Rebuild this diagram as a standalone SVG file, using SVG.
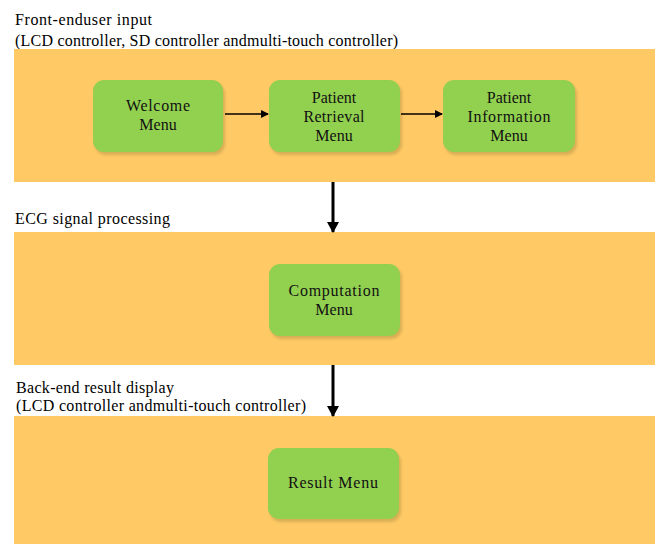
<svg xmlns="http://www.w3.org/2000/svg" width="659" height="544" viewBox="0 0 659 544">
<style>
.band{fill:#FFCA66}
.node{fill:#92D050}
.shadow{fill:#A88A3C;opacity:0.45;filter:url(#blur)}
.lbl{font-family:'Liberation Serif','Times New Roman','Liberation Sans',serif;font-size:16px;fill:#000}
.nt{font-family:'Liberation Serif','Times New Roman','Liberation Sans',serif;font-size:16px;fill:#111;text-anchor:middle}
.conn{stroke:#000;fill:none}
</style>
<defs>
<filter id="blur" x="-10%" y="-10%" width="120%" height="130%"><feGaussianBlur stdDeviation="1.5"/></filter>
<marker id="ah" markerWidth="8" markerHeight="8" refX="7" refY="4" orient="auto" markerUnits="userSpaceOnUse"><path d="M0,0 L8,4 L0,8 Z" fill="#000"/></marker>
<marker id="ahb" markerWidth="12" markerHeight="12" refX="10" refY="6" orient="auto" markerUnits="userSpaceOnUse"><path d="M0,0 L11,6 L0,12 Z" fill="#000"/></marker>
</defs>
<rect width="659" height="544" fill="#fff"/>
<g id="band1">
<text class="lbl" x="15" y="25" textLength="137" lengthAdjust="spacing">Front-enduser input</text>
<text class="lbl" x="15" y="46" textLength="383" lengthAdjust="spacing">(LCD controller, SD controller andmulti-touch controller)</text>
<rect class="band" x="14" y="49" width="641" height="133"/>
</g>
<g id="band2">
<text class="lbl" x="15" y="224" textLength="155" lengthAdjust="spacing">ECG signal processing</text>
<rect class="band" x="14" y="232" width="641" height="133"/>
</g>
<g id="band3">
<text class="lbl" x="16" y="393" textLength="158" lengthAdjust="spacing">Back-end result display</text>
<text class="lbl" x="16" y="411" textLength="290" lengthAdjust="spacing">(LCD controller andmulti-touch controller)</text>
<rect class="band" x="14" y="416" width="641" height="128"/>
</g>
<g id="welcome">
<rect class="shadow" x="95" y="83" width="130" height="72" rx="11"/>
<rect class="node" x="93" y="80" width="130" height="72" rx="11"/>
<text class="nt" x="158" y="111" textLength="64" lengthAdjust="spacing">Welcome</text>
<text class="nt" x="158" y="130">Menu</text>
</g>
<g id="retrieval">
<rect class="shadow" x="271" y="83" width="131" height="72" rx="11"/>
<rect class="node" x="269" y="80" width="131" height="72" rx="11"/>
<text class="nt" x="334" y="103">Patient</text>
<text class="nt" x="334" y="122" textLength="61" lengthAdjust="spacing">Retrieval</text>
<text class="nt" x="334" y="141">Menu</text>
</g>
<g id="information">
<rect class="shadow" x="445" y="83" width="132" height="72" rx="11"/>
<rect class="node" x="443" y="80" width="132" height="72" rx="11"/>
<text class="nt" x="509" y="103">Patient</text>
<text class="nt" x="509" y="122" textLength="83" lengthAdjust="spacing">Information</text>
<text class="nt" x="509" y="141">Menu</text>
</g>
<g id="computation">
<rect class="shadow" x="271" y="267" width="131" height="72" rx="11"/>
<rect class="node" x="269" y="264" width="131" height="72" rx="11"/>
<text class="nt" x="334" y="296" textLength="91" lengthAdjust="spacing">Computation</text>
<text class="nt" x="334" y="315">Menu</text>
</g>
<g id="result">
<rect class="shadow" x="270" y="451" width="131" height="71" rx="11"/>
<rect class="node" x="268" y="448" width="131" height="71" rx="11"/>
<text class="nt" x="333" y="488" textLength="90" lengthAdjust="spacing">Result Menu</text>
</g>
<g id="connectors">
<line class="conn" x1="225" y1="114" x2="268" y2="114" stroke-width="1.5" marker-end="url(#ah)"/>
<line class="conn" x1="401" y1="114" x2="442" y2="114" stroke-width="1.5" marker-end="url(#ah)"/>
<line class="conn" x1="333" y1="182" x2="333" y2="232" stroke-width="3" marker-end="url(#ahb)"/>
<line class="conn" x1="333" y1="365" x2="333" y2="416" stroke-width="3" marker-end="url(#ahb)"/>
</g>
</svg>
